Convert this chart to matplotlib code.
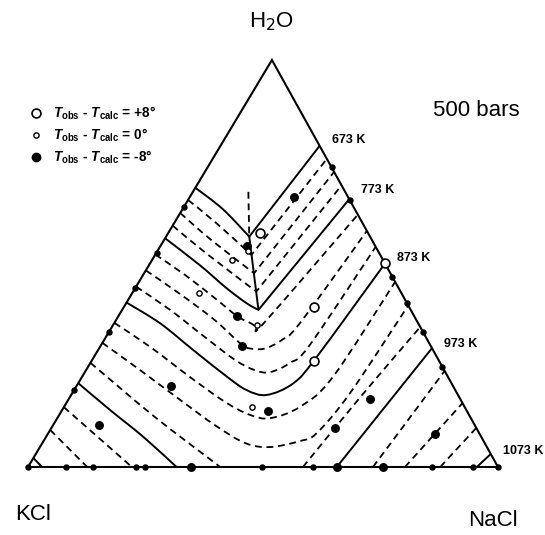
import numpy as np
import matplotlib.pyplot as plt
from matplotlib.lines import Line2D
from matplotlib.path import Path
from matplotlib.patches import PathPatch

plt.rcParams['font.family'] = ['Liberation Sans', 'DejaVu Sans']
plt.rcParams['mathtext.fontset'] = 'custom'
plt.rcParams['mathtext.rm'] = 'Liberation Sans:bold'
plt.rcParams['mathtext.it'] = 'Liberation Sans:italic:bold'
plt.rcParams['mathtext.bf'] = 'Liberation Sans:bold'

# compositions in wt%: (NaCl, H2O), KCl is the rest
corner_nacl = [0, 100, 0, 0]
corner_h2o = [0, 0, 100, 0]

# liquidus isotherms, 25 K apart (solid every 100 K)
iso_673 = ([0, 8.5, 17.7, 21.1], [68.6, 63.4, 56.6, 78.9])
iso_698 = ([0, 9.0, 20.5, 24.3], [65.6, 59.9, 52.1, 75.7])
iso_723 = ([0, 10.0, 23.4, 27.5], [62.4, 55.8, 47.6, 72.5])
iso_748 = ([0, 10.5, 26.2, 30.8], [59.3, 52.6, 43.1, 69.2])
iso_773 = ([0, 10.8, 19.5, 25.7, 29.0, 34.2], [56.2, 49.6, 43.9, 40.2, 38.6, 65.8])
iso_798 = ([0, 8.9, 18.2, 25.2, 28.9, 30.7, 31.9, 38.0],
           [52.2, 47.2, 41.5, 37.1, 35.4, 34.6, 35.6, 62.0])
iso_823 = ([0, 10.3, 21.0, 30.0, 33.2, 35.5, 37.8, 39.5, 42.0],
           [48.3, 42.5, 36.1, 30.0, 29.0, 29.2, 31.2, 35.3, 58.0])
iso_848 = ([0, 10.2, 21.1, 30.4, 35.9, 39.4, 42.5, 44.4, 45.9],
           [44.3, 38.6, 31.9, 26.3, 23.8, 23.3, 25.6, 30.0, 54.1])
iso_873 = ([0, 9.8, 20.3, 30.8, 36.7, 41.6, 45.8, 47.4, 50.0],
           [40.4, 35.3, 28.7, 22.2, 18.9, 17.7, 20.6, 27.1, 50.0])
iso_898 = ([0, 10.7, 23.0, 33.6, 40.6, 45.3, 50.2, 53.4, 54.5],
           [35.4, 29.5, 22.1, 16.0, 12.8, 12.0, 14.8, 22.2, 45.5])
iso_923 = ([0, 11.5, 23.8, 34.4, 43.1, 48.9, 54.6, 57.1, 59.1, 60.3],
           [30.5, 23.8, 16.5, 10.3, 5.9, 4.9, 6.4, 8.3, 18.2, 39.7])
iso_948_k = ([0, 20.6, 40.9], [25.6, 12.3, 0])
iso_948_n = ([58.5, 61.8, 65.6], [0, 17.2, 34.4])
iso_973_k = ([0, 10.2, 20.7, 31.6], [20.6, 14.0, 7.4, 0])
iso_973_n = ([65.7, 70.8], [0, 29.2])
iso_998_k = ([0, 22.1], [14.7, 0])
iso_998_n = ([73.4, 76.4], [0, 23.6])
iso_1023_k = ([0, 12.6], [9.1, 0])
iso_1023_n = ([80.2, 84.3], [0, 15.7])
iso_1048_k = ([0, 3.0], [2.2, 0])
iso_1048_n = ([87.7, 90.4], [0, 9.6])
iso_1073 = ([95.5, 96.8], [0, 3.2])

# halite + sylvite cotectic and its metastable extension
cotectic = ([17.7, 29.0], [56.6, 38.6])
cotectic_meta = ([11.8, 17.7], [67.6, 56.6])

# experiments
plus8_nacl = [19.6, 40.3, 47.4, 50.0]
plus8_h2o = [57.4, 39.4, 26.0, 50.0]
zero_nacl = [19.2, 16.9, 14.3, 30.6, 40.1]
zero_h2o = [53.1, 50.9, 42.7, 34.8, 14.7]
minus8_nacl = [22.2, 18.4, 25.2, 30.1, 20.2, 9.8, 44.0, 64.0, 60.4, 82.5, 34.6, 65.7, 75.6]
minus8_h2o = [66.3, 54.2, 37.0, 29.7, 19.9, 10.3, 13.7, 16.8, 9.5, 8.0, 0, 0, 0]
# points on the binaries
edge_nacl = [0, 0, 0, 0, 0, 0, 26.4, 34.4, 53.3, 59.6, 66.8, 75.4, 100,
             8.1, 13.8, 23.0, 24.9, 49.8, 60.6, 85.9, 94.7]
edge_h2o = [64.0, 52.7, 43.9, 33.2, 18.9, 0, 73.6, 65.6, 46.7, 40.4, 33.2, 24.6, 0,
            0, 0, 0, 0, 0, 0, 0, 0]

# (line, index of a sharp corner on the cotectic or None)
solid_lines = [(iso_673, 2), (iso_773, 4), (iso_873, None), (iso_973_k, None),
               (iso_973_n, None), (iso_1073, None), (iso_1048_k, None), (cotectic, None)]
dashed_lines = [(iso_698, 2), (iso_723, 2), (iso_748, 2), (iso_798, None), (iso_823, None),
                (iso_848, None), (iso_898, None), (iso_923, None), (iso_948_k, None),
                (iso_948_n, None), (iso_998_k, None), (iso_998_n, None), (iso_1023_k, None),
                (iso_1023_n, None), (iso_1048_n, None), (cotectic_meta, None)]

temp_labels = [("673 K", iso_673, 6), ("773 K", iso_773, 9), ("873 K", iso_873, 5),
               ("973 K", iso_973_n, 4), ("1073 K", iso_1073, 3)]


def tern(nacl, h2o):
    nacl = np.asarray(nacl, float)
    h2o = np.asarray(h2o, float)
    # the printed triangle leans slightly to the right
    return nacl + 0.519 * h2o, 0.866 * h2o


def curve(x, y, corner=None):
    # smooth bezier through the read points, sharp at the corner
    pts = np.column_stack([x, y])
    n = len(pts)
    verts = [pts[0]]
    codes = [Path.MOVETO]
    for i in range(n - 1):
        p1, p2 = pts[i], pts[i + 1]
        p0 = pts[i - 1] if i > 0 and i != corner else p1
        p3 = pts[i + 2] if i + 2 < n and i + 1 != corner else p2
        verts += [p1 + (p2 - p0) / 6, p2 - (p3 - p1) / 6, p2]
        codes += [Path.CURVE4] * 3
    return Path(verts, codes)


fig = plt.figure(figsize=(5.45, 5.35), dpi=100)
ax = fig.add_axes([0, 0, 1, 1])
ax.set_xlim(-28 / 4.7, (545 - 28) / 4.7)
ax.set_ylim(-(535 - 467) / 4.7, 467 / 4.7)
ax.axis('off')

x, y = tern(corner_nacl, corner_h2o)
ax.plot(x, y, color='black', lw=1.5, solid_joinstyle='miter')

for (n, h), c in solid_lines:
    x, y = tern(n, h)
    ax.add_patch(PathPatch(curve(x, y, c), fill=False, ec='black', lw=1.4))
for (n, h), c in dashed_lines:
    x, y = tern(n, h)
    ax.add_patch(PathPatch(curve(x, y, c), fill=False, ec='black', lw=1.3,
                           linestyle=(0, (3.8, 2.6))))

x, y = tern(edge_nacl, edge_h2o)
ax.plot(x, y, 'o', color='black', ms=3.6, zorder=5)
x, y = tern(minus8_nacl, minus8_h2o)
ax.plot(x, y, 'o', color='black', ms=5.4, zorder=5)
x, y = tern(zero_nacl, zero_h2o)
ax.plot(x, y, 'o', mfc='white', mec='black', mew=1.0, ms=3.8, zorder=6)
x, y = tern(plus8_nacl, plus8_h2o)
ax.plot(x, y, 'o', mfc='white', mec='black', mew=1.2, ms=6.4, zorder=6)

for text, (n, h), dy in temp_labels:
    x, y = tern(n[-1], h[-1])
    ax.annotate(text, (x, y), xytext=(12, dy), textcoords='offset pixels',
                ha='left', va='center', fontsize=9, fontweight='bold')

x, y = tern(0, 100)
ax.annotate("H$_2$O", (x, y), xytext=(0, 38), textcoords='offset pixels',
            ha='center', va='center', fontsize=16, math_fontfamily='dejavusans')
x, y = tern(0, 0)
ax.annotate("KCl", (x, y), xytext=(5, -47), textcoords='offset pixels',
            ha='center', va='center', fontsize=16)
x, y = tern(100, 0)
ax.annotate("NaCl", (x, y), xytext=(-5, -54), textcoords='offset pixels',
            ha='center', va='center', fontsize=16)
fig.text(476 / 545, 1 - 110 / 535, "500 bars", ha='center', va='center', fontsize=16)

handles = [Line2D([], [], ls='none', marker='o', mfc='white', mec='black', mew=1.2, ms=6.4),
           Line2D([], [], ls='none', marker='o', mfc='white', mec='black', mew=1.0, ms=3.8),
           Line2D([], [], ls='none', marker='o', color='black', ms=6.0)]
labels = [r"$T_{\mathrm{obs}}$ - $T_{\mathrm{calc}}$ = +8°",
          r"$T_{\mathrm{obs}}$ - $T_{\mathrm{calc}}$ = 0°",
          r"$T_{\mathrm{obs}}$ - $T_{\mathrm{calc}}$ = -8°"]
fig.legend(handles, labels, loc='upper left', bbox_to_anchor=(22.5 / 545, 1 - 97.5 / 535),
           frameon=False, borderpad=0, handlelength=1.0, handletextpad=0.75,
           labelspacing=0.36, prop=dict(size=9.8, weight='bold'))

fig.savefig('out.png', dpi=100)
